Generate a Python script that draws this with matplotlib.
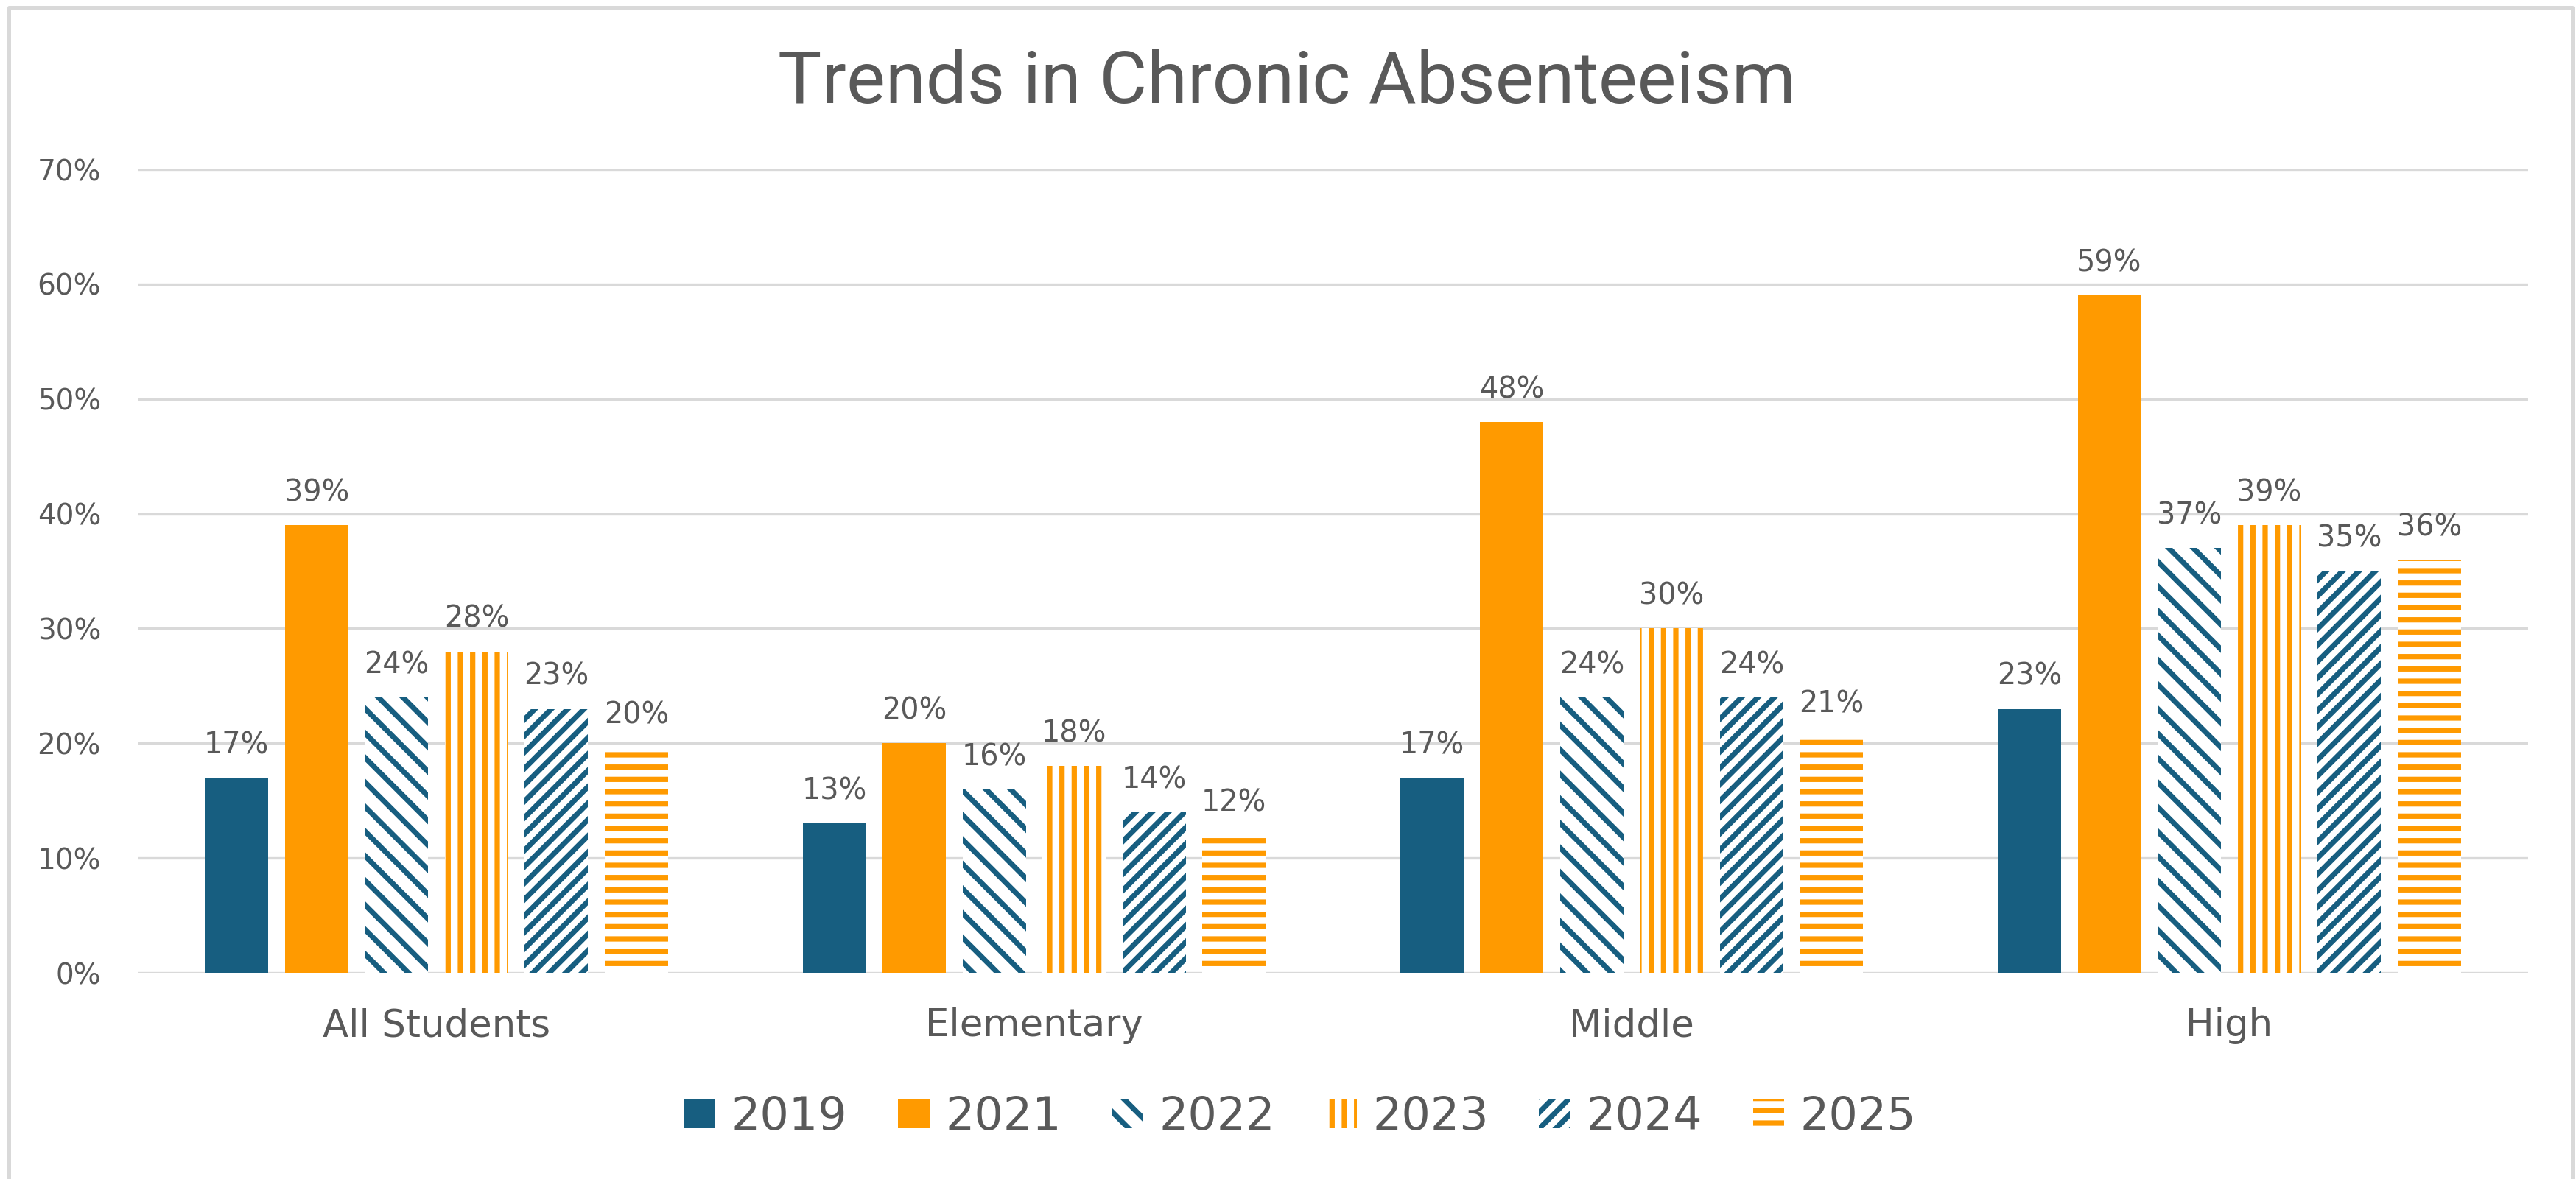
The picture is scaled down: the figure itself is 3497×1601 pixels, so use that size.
import numpy as np
import matplotlib.pyplot as plt
from matplotlib.lines import Line2D

categories = ["All Students", "Elementary", "Middle", "High"]
years = ["2019", "2021", "2022", "2023", "2024", "2025"]

# chronic absenteeism rate (%) by year, one list per year
rate_2019 = [17, 13, 17, 23]
rate_2021 = [39, 20, 48, 59]
rate_2022 = [24, 16, 24, 37]
rate_2023 = [28, 18, 30, 39]
rate_2024 = [23, 14, 24, 35]
rate_2025 = [19.6, 12, 20.6, 36]
series = [rate_2019, rate_2021, rate_2022, rate_2023, rate_2024, rate_2025]

yticks = [0, 10, 20, 30, 40, 50, 60, 70]

BLUE = "#175e80"
ORANGE = "#ff9a00"
GRID = "#d9d9d9"
TEXT = "#595959"

styles = [
    dict(color=BLUE, hatch=None),
    dict(color=ORANGE, hatch=None),
    dict(color=BLUE, hatch="\\\\"),
    dict(color=ORANGE, hatch="||"),
    dict(color=BLUE, hatch="///"),
    dict(color=ORANGE, hatch="--"),
]

plt.rcParams["hatch.linewidth"] = 2.6
plt.rcParams["font.family"] = "DejaVu Sans"

W, H = 3498, 1601
DPI = 200
fig = plt.figure(figsize=(W / DPI, H / DPI), dpi=DPI)
ax = fig.add_axes([187 / W, 1 - 1321 / H, (3432 - 187) / W, (1321 - 230) / H])

x = np.arange(len(categories))
step = 0.1338
width = 0.106

for i, (vals, year, st) in enumerate(zip(series, years, styles)):
    pos = x + (i - 2.5) * step
    if st["hatch"] is None:
        bars = ax.bar(pos, vals, width, color=st["color"], linewidth=0,
                      label=year, zorder=2)
    else:
        bars = ax.bar(pos, vals, width, facecolor="white", edgecolor=st["color"],
                      hatch=st["hatch"], linewidth=0, label=year, zorder=2)
    ax.bar_label(bars, labels=[f"{round(v)}%" for v in vals], padding=8.5,
                 fontsize=14.3, color=TEXT)

ax.set_xlim(-0.5, len(categories) - 0.5)
ax.set_ylim(0, 70)
ax.set_yticks(yticks)
ax.set_yticklabels([f"{t}%" for t in yticks])
ax.set_xticks(x)
ax.set_xticklabels(categories)
ax.tick_params(axis="y", length=0, pad=18, labelsize=14, labelcolor=TEXT)
ax.tick_params(axis="x", length=0, pad=17, labelsize=18.5, labelcolor=TEXT)
ax.grid(axis="y", color=GRID, linewidth=1.2, zorder=0)
ax.set_axisbelow(True)
for s in ax.spines.values():
    s.set_visible(False)

fig.text(1747 / W, 1 - 140 / H, "Trends in Chronic Absenteeism", ha="center",
         va="baseline", fontsize=35.8, color=TEXT, family="Roboto")

fig.legend(loc="center", bbox_to_anchor=(1765 / W, 1 - 1517 / H), ncol=6,
           frameon=False, fontsize=22.3, labelcolor=TEXT, handlelength=0.69,
           handleheight=0.61, handletextpad=0.35, columnspacing=1.1)

# outer chart frame (open at the bottom)
fig.add_artist(Line2D([12 / W, 12 / W, 3492 / W, 3492 / W],
                      [0, 1 - 10 / H, 1 - 10 / H, 0],
                      transform=fig.transFigure, color=GRID, linewidth=1.8))

fig.savefig("out.png", dpi=DPI, facecolor="white")
